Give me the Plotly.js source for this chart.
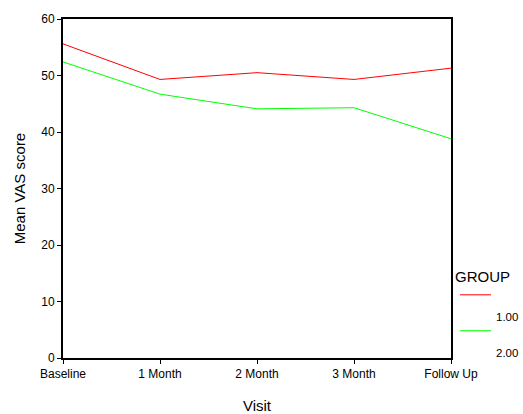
<!DOCTYPE html>
<html><head><meta charset="utf-8">
<script src="https://cdn.plot.ly/plotly-3.0.1.min.js"></script>
<style>body{margin:0;padding:0;background:#fff}#chart{width:523px;height:414px}</style>
</head><body><div id="chart"></div>
<script>
var visits = ["Baseline", "1 Month", "2 Month", "3 Month", "Follow Up"];
var group1 = [55.6, 49.3, 50.5, 49.3, 51.3];
var group2 = [52.4, 46.7, 44.1, 44.3, 38.8];
var groupNames = ["1.00", "2.00"];
var groupColors = ["#ff0000", "#00ff00"];
var legendTitle = "GROUP";

var font = "Liberation Sans, Arial, sans-serif";
var series = [group1, group2];
var traces = series.map(function (s, i) {
  return {x: visits, y: s, type: "scatter", mode: "lines", name: groupNames[i],
          line: {color: groupColors[i], width: 1}, showlegend: false};
});

// SPSS-style legend: line sample above its label
var shapes = [], annotations = [];
var lineY = [0.1864, 0.0804], labelY = [0.1216, 0.0156];
groupNames.forEach(function (n, i) {
  shapes.push({type: "line", xref: "paper", yref: "paper",
               x0: 1.0232, x1: 1.1031, y0: lineY[i], y1: lineY[i],
               line: {color: groupColors[i], width: 1}});
  annotations.push({xref: "paper", yref: "paper", x: 1.114, y: labelY[i],
                    xanchor: "left", yanchor: "middle", showarrow: false,
                    borderpad: 0, text: n, font: {size: 11.5}});
});
annotations.push({xref: "paper", yref: "paper", x: 1.006, y: 0.2394,
                  xanchor: "left", yanchor: "middle", showarrow: false,
                  text: legendTitle, font: {size: 15}});

var layout = {
  width: 523, height: 414,
  margin: {l: 63, r: 72, t: 19, b: 56},
  paper_bgcolor: "#fff", plot_bgcolor: "#fff",
  font: {family: font, color: "#000", size: 12},
  showlegend: false,
  shapes: shapes, annotations: annotations,
  xaxis: {
    type: "category", range: [0, 4],
    showline: true, linecolor: "#000", linewidth: 2, mirror: true,
    ticks: "outside", ticklen: 4, tickcolor: "#000",
    showgrid: false, zeroline: false,
    tickfont: {size: 12},
    title: {text: "Visit", font: {size: 15}, standoff: 26}
  },
  yaxis: {
    range: [0, 60], dtick: 10,
    showline: true, linecolor: "#000", linewidth: 2, mirror: true,
    ticks: "outside", ticklen: 4, tickcolor: "#000",
    showgrid: false, zeroline: false,
    tickfont: {size: 12},
    title: {text: "Mean VAS score", font: {size: 15}, standoff: 12}
  }
};
Plotly.newPlot("chart", traces, layout, {displayModeBar: false, staticPlot: true});
</script></body></html>
